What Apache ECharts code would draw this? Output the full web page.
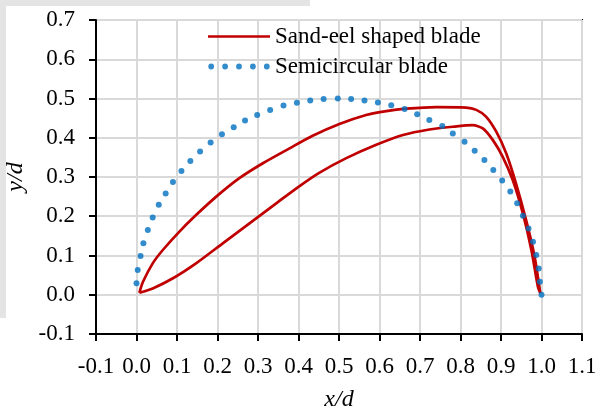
<!DOCTYPE html>
<html>
<head>
<meta charset="utf-8">
<script src="https://cdn.jsdelivr.net/npm/echarts@6/dist/echarts.min.js"></script>
<style>
  html, body { margin: 0; padding: 0; background: #fff; overflow: hidden; }
  #wrap { position: relative; width: 601px; height: 410px; background: #fff; }
  .band { position: absolute; background: #e4e4e4; }
  #chart { position: absolute; left: 0; top: 0; width: 601px; height: 410px; }
</style>
</head>
<body>
<div id="wrap">
  <div class="band" style="left:0;top:0;width:310px;height:6px"></div>
  <div class="band" style="left:0;top:0;width:6px;height:318px"></div>
  <div id="chart"></div>
</div>
<script>
// sand-eel blade outline: tip -> outer side -> trailing edge -> inner side -> tip
var eelX = [0.007, 0.016, 0.040, 0.065, 0.106, 0.147, 0.197, 0.254, 0.312, 0.378, 0.435, 0.501, 0.567, 0.617, 0.666, 0.740, 0.814, 0.839, 0.863, 0.888, 0.913, 0.937, 0.962, 0.983, 0.997,
            0.991, 0.975, 0.954, 0.929, 0.904, 0.880, 0.855, 0.830, 0.781, 0.723, 0.658, 0.592, 0.518, 0.450, 0.400, 0.345, 0.279, 0.213, 0.147, 0.090, 0.040, 0.007]
var eelY = [0.005, 0.033, 0.080, 0.114, 0.161, 0.203, 0.250, 0.297, 0.335, 0.373, 0.405, 0.435, 0.458, 0.468, 0.474, 0.478, 0.477, 0.471, 0.454, 0.416, 0.360, 0.284, 0.190, 0.097, 0.004,
            0.021, 0.114, 0.207, 0.292, 0.352, 0.394, 0.424, 0.432, 0.428, 0.421, 0.407, 0.382, 0.348, 0.310, 0.275, 0.233, 0.182, 0.131, 0.080, 0.042, 0.016, 0.005]

// semicircular blade, one entry per dot
var semiX = [0.000, 0.003, 0.010, 0.017, 0.028, 0.040, 0.055, 0.072, 0.090, 0.111, 0.133, 0.157, 0.183, 0.211, 0.240, 0.268, 0.298, 0.330, 0.363, 0.396, 0.429, 0.462, 0.497,
             0.530, 0.563, 0.596, 0.629, 0.662, 0.693, 0.723, 0.755, 0.781, 0.810, 0.835, 0.859, 0.881, 0.903, 0.923, 0.940, 0.954, 0.968, 0.979, 0.987, 0.993, 0.996, 1.000]
var semiY = [0.029, 0.063, 0.099, 0.131, 0.165, 0.197, 0.229, 0.258, 0.287, 0.315, 0.341, 0.365, 0.388, 0.409, 0.427, 0.444, 0.458, 0.471, 0.482, 0.489, 0.495, 0.499, 0.500,
             0.499, 0.495, 0.490, 0.483, 0.473, 0.460, 0.445, 0.430, 0.411, 0.390, 0.367, 0.343, 0.318, 0.291, 0.263, 0.233, 0.201, 0.169, 0.135, 0.101, 0.067, 0.033, 0.000]

var seriesNames = ['Sand-eel shaped blade', 'Semicircular blade']

var font = 'Liberation Serif, Times New Roman, serif'
var gridColor = '#d9d9d9'

function pairs (xs, ys) {
  return xs.map(function (x, i) { return [x, ys[i]] })
}

// legend samples: a plain red line and five dots
var lineIcon = 'path://M0 0H62V2.7H0Z'
var dotsIcon = 'path://M0 2.9a2.9 2.9 0 1 0 5.8 0a2.9 2.9 0 1 0 -5.8 0Z' +
  'M13.9 2.9a2.9 2.9 0 1 0 5.8 0a2.9 2.9 0 1 0 -5.8 0Z' +
  'M27.8 2.9a2.9 2.9 0 1 0 5.8 0a2.9 2.9 0 1 0 -5.8 0Z' +
  'M41.7 2.9a2.9 2.9 0 1 0 5.8 0a2.9 2.9 0 1 0 -5.8 0Z' +
  'M55.6 2.9a2.9 2.9 0 1 0 5.8 0a2.9 2.9 0 1 0 -5.8 0Z'

var myChart = echarts.init(document.getElementById('chart'))

var option = {
  backgroundColor: 'transparent',
  animation: false,
  grid: {
    left: 96,
    right: 19,
    top: 20,
    bottom: 76,
    outerBoundsMode: 'none',
    containLabel: false,
    show: true,
    borderColor: '#000',
    borderWidth: 2,
    backgroundColor: '#fff'
  },
  legend: {
    orient: 'vertical',
    left: 208,
    top: 25,
    padding: 0,
    itemWidth: 62,
    itemHeight: 5.8,
    itemGap: 7,
    textStyle: { fontFamily: font, fontSize: 23, color: '#000' },
    data: [
      { name: seriesNames[0], icon: lineIcon },
      { name: seriesNames[1], icon: dotsIcon }
    ]
  },
  xAxis: {
    type: 'value',
    min: -0.1,
    max: 1.1,
    interval: 0.1,
    name: 'x/d',
    nameLocation: 'middle',
    nameGap: 54,
    nameTextStyle: { fontFamily: font, fontSize: 24, fontStyle: 'italic', color: '#000' },
    axisLine: { show: true, onZero: false, lineStyle: { color: '#000', width: 2 } },
    axisTick: { show: true, length: 7, lineStyle: { color: '#000', width: 2 } },
    axisLabel: {
      margin: 21,
      fontFamily: font,
      fontSize: 23,
      color: '#000',
      formatter: function (v) { return v.toFixed(1) }
    },
    splitLine: { show: true, lineStyle: { color: gridColor, width: 2 } }
  },
  yAxis: {
    type: 'value',
    min: -0.1,
    max: 0.7,
    interval: 0.1,
    name: 'y/d',
    nameLocation: 'middle',
    nameGap: 62,
    nameRotate: 90,
    nameTextStyle: { fontFamily: font, fontSize: 24, fontStyle: 'italic', color: '#000' },
    axisLine: { show: true, onZero: false, lineStyle: { color: '#000', width: 2 } },
    axisTick: { show: true, length: 7, lineStyle: { color: '#000', width: 2 } },
    axisLabel: {
      margin: 21,
      fontFamily: font,
      fontSize: 23,
      color: '#000',
      formatter: function (v) { return v.toFixed(1) }
    },
    splitLine: { show: true, lineStyle: { color: gridColor, width: 2 } }
  },
  series: [
    {
      name: seriesNames[0],
      type: 'line',
      symbol: 'none',
      smooth: 0.25,
      lineStyle: { color: '#c00000', width: 2.7 },
      itemStyle: { color: '#c00000' },
      data: pairs(eelX, eelY),
      z: 3
    },
    {
      name: seriesNames[1],
      type: 'scatter',
      symbol: 'circle',
      symbolSize: 6,
      itemStyle: { color: '#0070c0' },
      data: pairs(semiX, semiY),
      z: 4
    }
  ]
}

if (option && typeof option === 'object') {
  myChart.setOption(option)
}
</script>
</body>
</html>
